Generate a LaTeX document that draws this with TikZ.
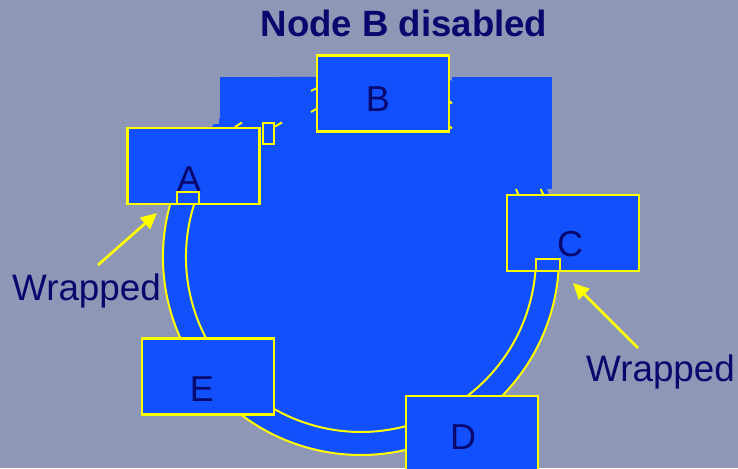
\documentclass[tikz,border=0pt]{standalone}
\usepackage{fontspec}
\setmainfont{Liberation Sans}
\usetikzlibrary{arrows.meta}
\definecolor{bgc}{RGB}{142,151,181}
\definecolor{ringblue}{RGB}{17,80,250}
\definecolor{navy}{RGB}{8,8,110}
\definecolor{yel}{RGB}{255,255,0}
\tikzset{
  nodebox/.style={draw=yel, line width=2.4pt, fill=ringblue, inner sep=0pt, minimum width=132pt, minimum height=76pt},
  wrapbox/.style={draw=yel, line width=2pt, fill=ringblue, inner sep=0pt},
  ringline/.style={draw=yel, line width=2pt},
  stub/.style={draw=yel, line width=2pt},
  lab/.style={text=navy, font=\fontsize{36}{40}\selectfont, inner sep=0pt, anchor=base},
  wraplab/.style={text=navy, font=\fontsize{36.8}{40}\selectfont, inner sep=0pt, anchor=base west},
  warrow/.style={draw=yel, line width=2.6pt, -{Triangle[length=16pt,width=15pt]}},
  cover/.style={fill=ringblue}
}
\begin{document}
\begin{tikzpicture}[x=1pt,y=-1pt]
\useasboundingbox (0,0) rectangle (738,468);
\fill[bgc] (0,0) rectangle (738,468);
% ring disk
\coordinate (ctr) at (361,257);
\begin{scope}
  \clip (219,77) rectangle (738,468) (0,124) rectangle (219,468);
  \fill[ringblue] (ctr) circle[radius=198];
\end{scope}
% covering rectangles around disabled node B
\fill[cover] (220,77) rectangle (311,122);
\fill[cover] (452,77) rectangle (552,189);
% wrapped ring (outer and inner)
\draw[ringline] (ctr) ++(197:198) arc[start angle=197, end angle=2.6, radius=198];
\draw[ringline] (ctr) ++(199.7:175) arc[start angle=199.7, end angle=2.6, radius=175];
% stubs of the broken ring near B
\draw[stub] (311,91) -- (317,88);
\draw[stub] (311,112) -- (317,108.5);
\draw[stub] (449,101) -- (452,103.5);
\draw[stub] (449,126) -- (452,128.5);
\draw[stub] (235,127) -- (242,122.5);
\draw[stub] (275,126.5) -- (282,122.5);
\draw[stub] (516,189) -- (518.5,195);
\draw[stub] (540.5,189) -- (543.5,195);
% node boxes
\node[nodebox] (A) at (193.5,166) {};
\node[nodebox] (B) at (383,93.5) {};
\node[nodebox] (C) at (573,233) {};
\node[nodebox] (E) at (208,376.5) {};
\node[nodebox] (D) at (472,434) {};
% small wrap boxes
\node[wrapbox, minimum width=11pt, minimum height=21pt] (wAB) at (268.5,133.5) {};
\node[wrapbox, minimum width=22pt, minimum height=12pt] (wA) at (188,198) {};
\node[wrapbox, minimum width=24pt, minimum height=12pt] (wC) at (548,265) {};
% labels
\node[lab] (lA) at (189,191) {A};
\node[lab] (lB) at (378,112) {B};
\node[lab] (lC) at (570,256) {C};
\node[lab] (lD) at (463,449) {D};
\node[lab] (lE) at (202,401) {E};
% title
\node[text=navy, font=\fontsize{36.6}{40}\selectfont\bfseries, inner sep=0pt, anchor=base] (title) at (404,37) {Node B disabled};
% wrapped annotations
\node[wraplab] (w1) at (12,300) {Wrapped};
\node[wraplab] (w2) at (586,381) {Wrapped};
\coordinate (w1t) at (98,265);
\coordinate (w1h) at (157,213);
\coordinate (w2t) at (638,348);
\coordinate (w2h) at (573,283);
\draw[warrow] (w1t) -- (w1h);
\draw[warrow] (w2t) -- (w2h);
\end{tikzpicture}
\end{document}
